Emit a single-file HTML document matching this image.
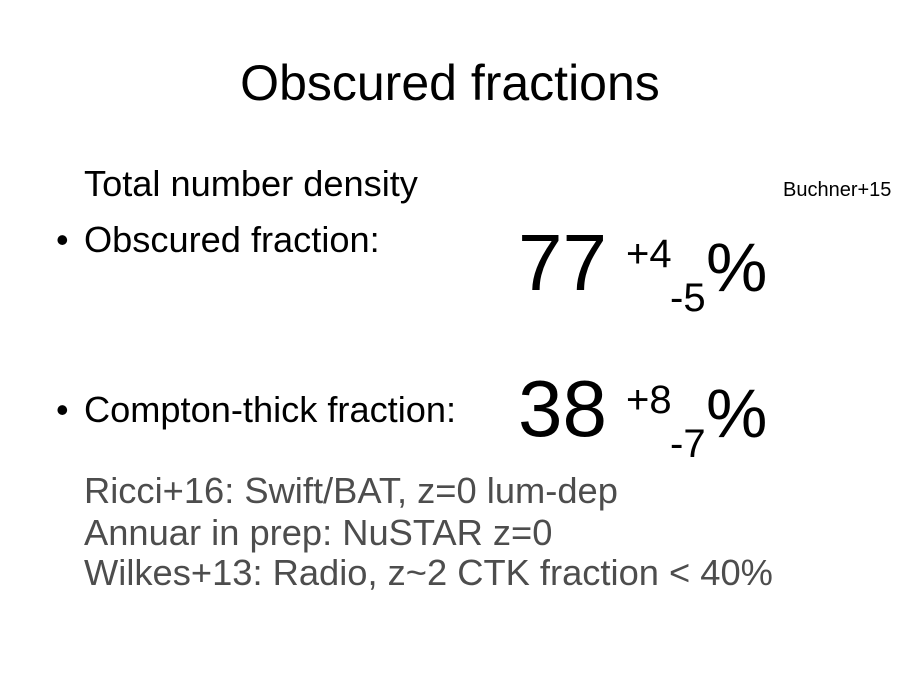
<!DOCTYPE html>
<html><head><meta charset="utf-8"><style>
html,body{margin:0;padding:0;background:#fff;}
#slide{position:relative;width:900px;height:675px;overflow:hidden;background:#fff;font-family:"Liberation Sans",sans-serif;color:#000;}
#slide div{position:absolute;line-height:1;white-space:nowrap;}
.b{font-size:36px;}
.g{font-size:36.3px;color:#4d4d4d;left:84px;}
</style></head><body>
<div id="slide">
<div style="left:0;width:900px;text-align:center;top:58px;font-size:50px;">Obscured fractions</div>
<div class="b" style="left:84px;top:166px;font-size:36.2px;">Total number density</div>
<div style="left:783px;top:180px;font-size:20px;">Buchner+15</div>

<div class="b" style="left:56px;top:222px;">•</div>
<div class="b" style="left:84px;top:222px;font-size:36.2px;">Obscured fraction:</div>
<div style="left:518px;top:223px;font-size:80px;">77</div>
<div style="left:626px;top:234px;font-size:40px;">+4</div>
<div style="left:670px;top:278px;font-size:40px;">-5</div>
<div style="left:706px;top:233px;font-size:69px;">%</div>

<div class="b" style="left:56px;top:392px;">•</div>
<div class="b" style="left:84px;top:392px;font-size:36.2px;">Compton-thick fraction:</div>
<div style="left:518px;top:369px;font-size:80px;">38</div>
<div style="left:626px;top:380px;font-size:40px;">+8</div>
<div style="left:670px;top:424px;font-size:40px;">-7</div>
<div style="left:706px;top:379px;font-size:69px;">%</div>

<div class="g" style="top:473px;">Ricci+16: Swift/BAT, z=0 lum-dep</div>
<div class="g" style="top:515px;">Annuar in prep: NuSTAR z=0</div>
<div class="g" style="top:555px;">Wilkes+13: Radio, z~2 CTK fraction &lt; 40%</div>
</div>
</body></html>
